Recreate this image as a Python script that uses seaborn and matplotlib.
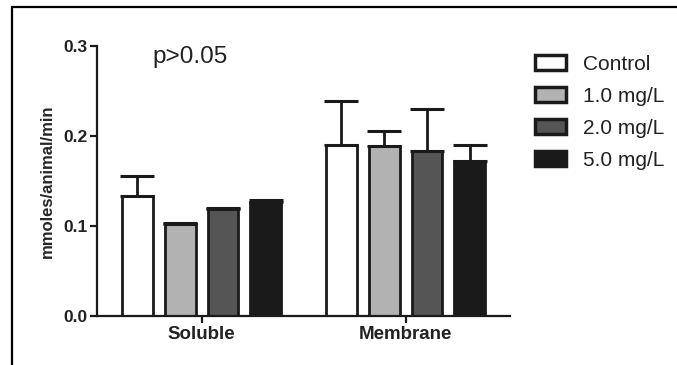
import matplotlib
matplotlib.use("Agg")
import matplotlib.pyplot as plt
from matplotlib.lines import Line2D
import numpy as np
import pandas as pd
import seaborn as sns

# ---- data ----
groups = ["Soluble", "Membrane"]
treatments = ["Control", "1.0 mg/L", "2.0 mg/L", "5.0 mg/L"]
soluble_mean = [0.133, 0.102, 0.119, 0.127]
soluble_err = [0.023, 0.001, 0.001, 0.002]
membrane_mean = [0.190, 0.189, 0.183, 0.172]
membrane_err = [0.049, 0.017, 0.047, 0.018]
colors = ["#ffffff", "#b2b2b2", "#555555", "#1a1a1a"]
yticks = [0.0, 0.1, 0.2, 0.3]

rows = []
for g, means in zip(groups, [soluble_mean, membrane_mean]):
    for t, m in zip(treatments, means):
        rows.append({"group": g, "treatment": t, "value": m})
df = pd.DataFrame(rows)
errs = {"Soluble": soluble_err, "Membrane": membrane_err}

sns.set_style("ticks")
plt.rcParams["font.family"] = ["Liberation Sans", "DejaVu Sans"]

fig = plt.figure(figsize=(6.77, 3.65), dpi=100)
ax = fig.add_axes([0.1433, 0.1342, 0.61, 0.7398])

edge = "#1a1a1a"
sns.barplot(data=df, x="group", y="value", hue="treatment", order=groups,
            hue_order=treatments, palette=dict(zip(treatments, colors)),
            width=0.84, gap=0.28, edgecolor=edge, linewidth=2.0,
            errorbar=None, ax=ax, legend=False, saturation=1)

bar_containers = list(ax.containers)

# error bars (upper only) from bar geometry
for ti, cont in enumerate(bar_containers):
    for gi, patch in enumerate(cont.patches):
        xc = patch.get_x() + patch.get_width() / 2
        h = patch.get_height()
        e = errs[groups[gi]][ti]
        ax.errorbar([xc], [h], yerr=[[0], [e]], fmt="none", ecolor=edge,
                    elinewidth=2.0, capsize=12.5, capthick=2.2, zorder=1)

ax.set_ylim(0, 0.3)
ax.set_xlim(-0.513, 1.512)
ax.set_yticks(yticks)
ax.set_yticklabels([f"{v:.1f}" for v in yticks], fontsize=12.5, fontweight="bold")
ax.set_xticks([0, 1])
ax.set_xticklabels(groups, fontsize=13.5, fontweight="bold")
ax.set_xlabel("")
ax.set_ylabel("mmoles/animal/min", fontsize=12, fontweight="bold", labelpad=6)
for s in ["left", "bottom"]:
    ax.spines[s].set_linewidth(1.6)
    ax.spines[s].set_color(edge)
for s in ["top", "right"]:
    ax.spines[s].set_visible(False)
ax.tick_params(axis="both", width=1.6, length=5, color=edge, pad=2, labelcolor="#222222")

ax.text(-0.057, 0.281, "p>0.05", fontsize=17.5, ha="center", va="baseline", color="#222222")

leg = ax.legend(handles=bar_containers, labels=treatments, loc="upper left",
                bbox_to_anchor=(0.79, 0.85), bbox_transform=fig.transFigure,
                frameon=False, fontsize=15, handlelength=1.5, handleheight=0.7,
                labelspacing=0.62, handletextpad=0.8, borderaxespad=0, borderpad=0)
for t in leg.get_texts():
    t.set_color("#222222")
for h in leg.legend_handles:
    h.set_linewidth(2.5)

# figure border (top and left)
fig.add_artist(Line2D([0.0177, 1.0], [0.981, 0.981], transform=fig.transFigure,
                      color="black", linewidth=1.6))
fig.add_artist(Line2D([0.0177, 0.0177], [0.0, 0.981], transform=fig.transFigure,
                      color="black", linewidth=1.6))

fig.savefig("out.png", dpi=100)
